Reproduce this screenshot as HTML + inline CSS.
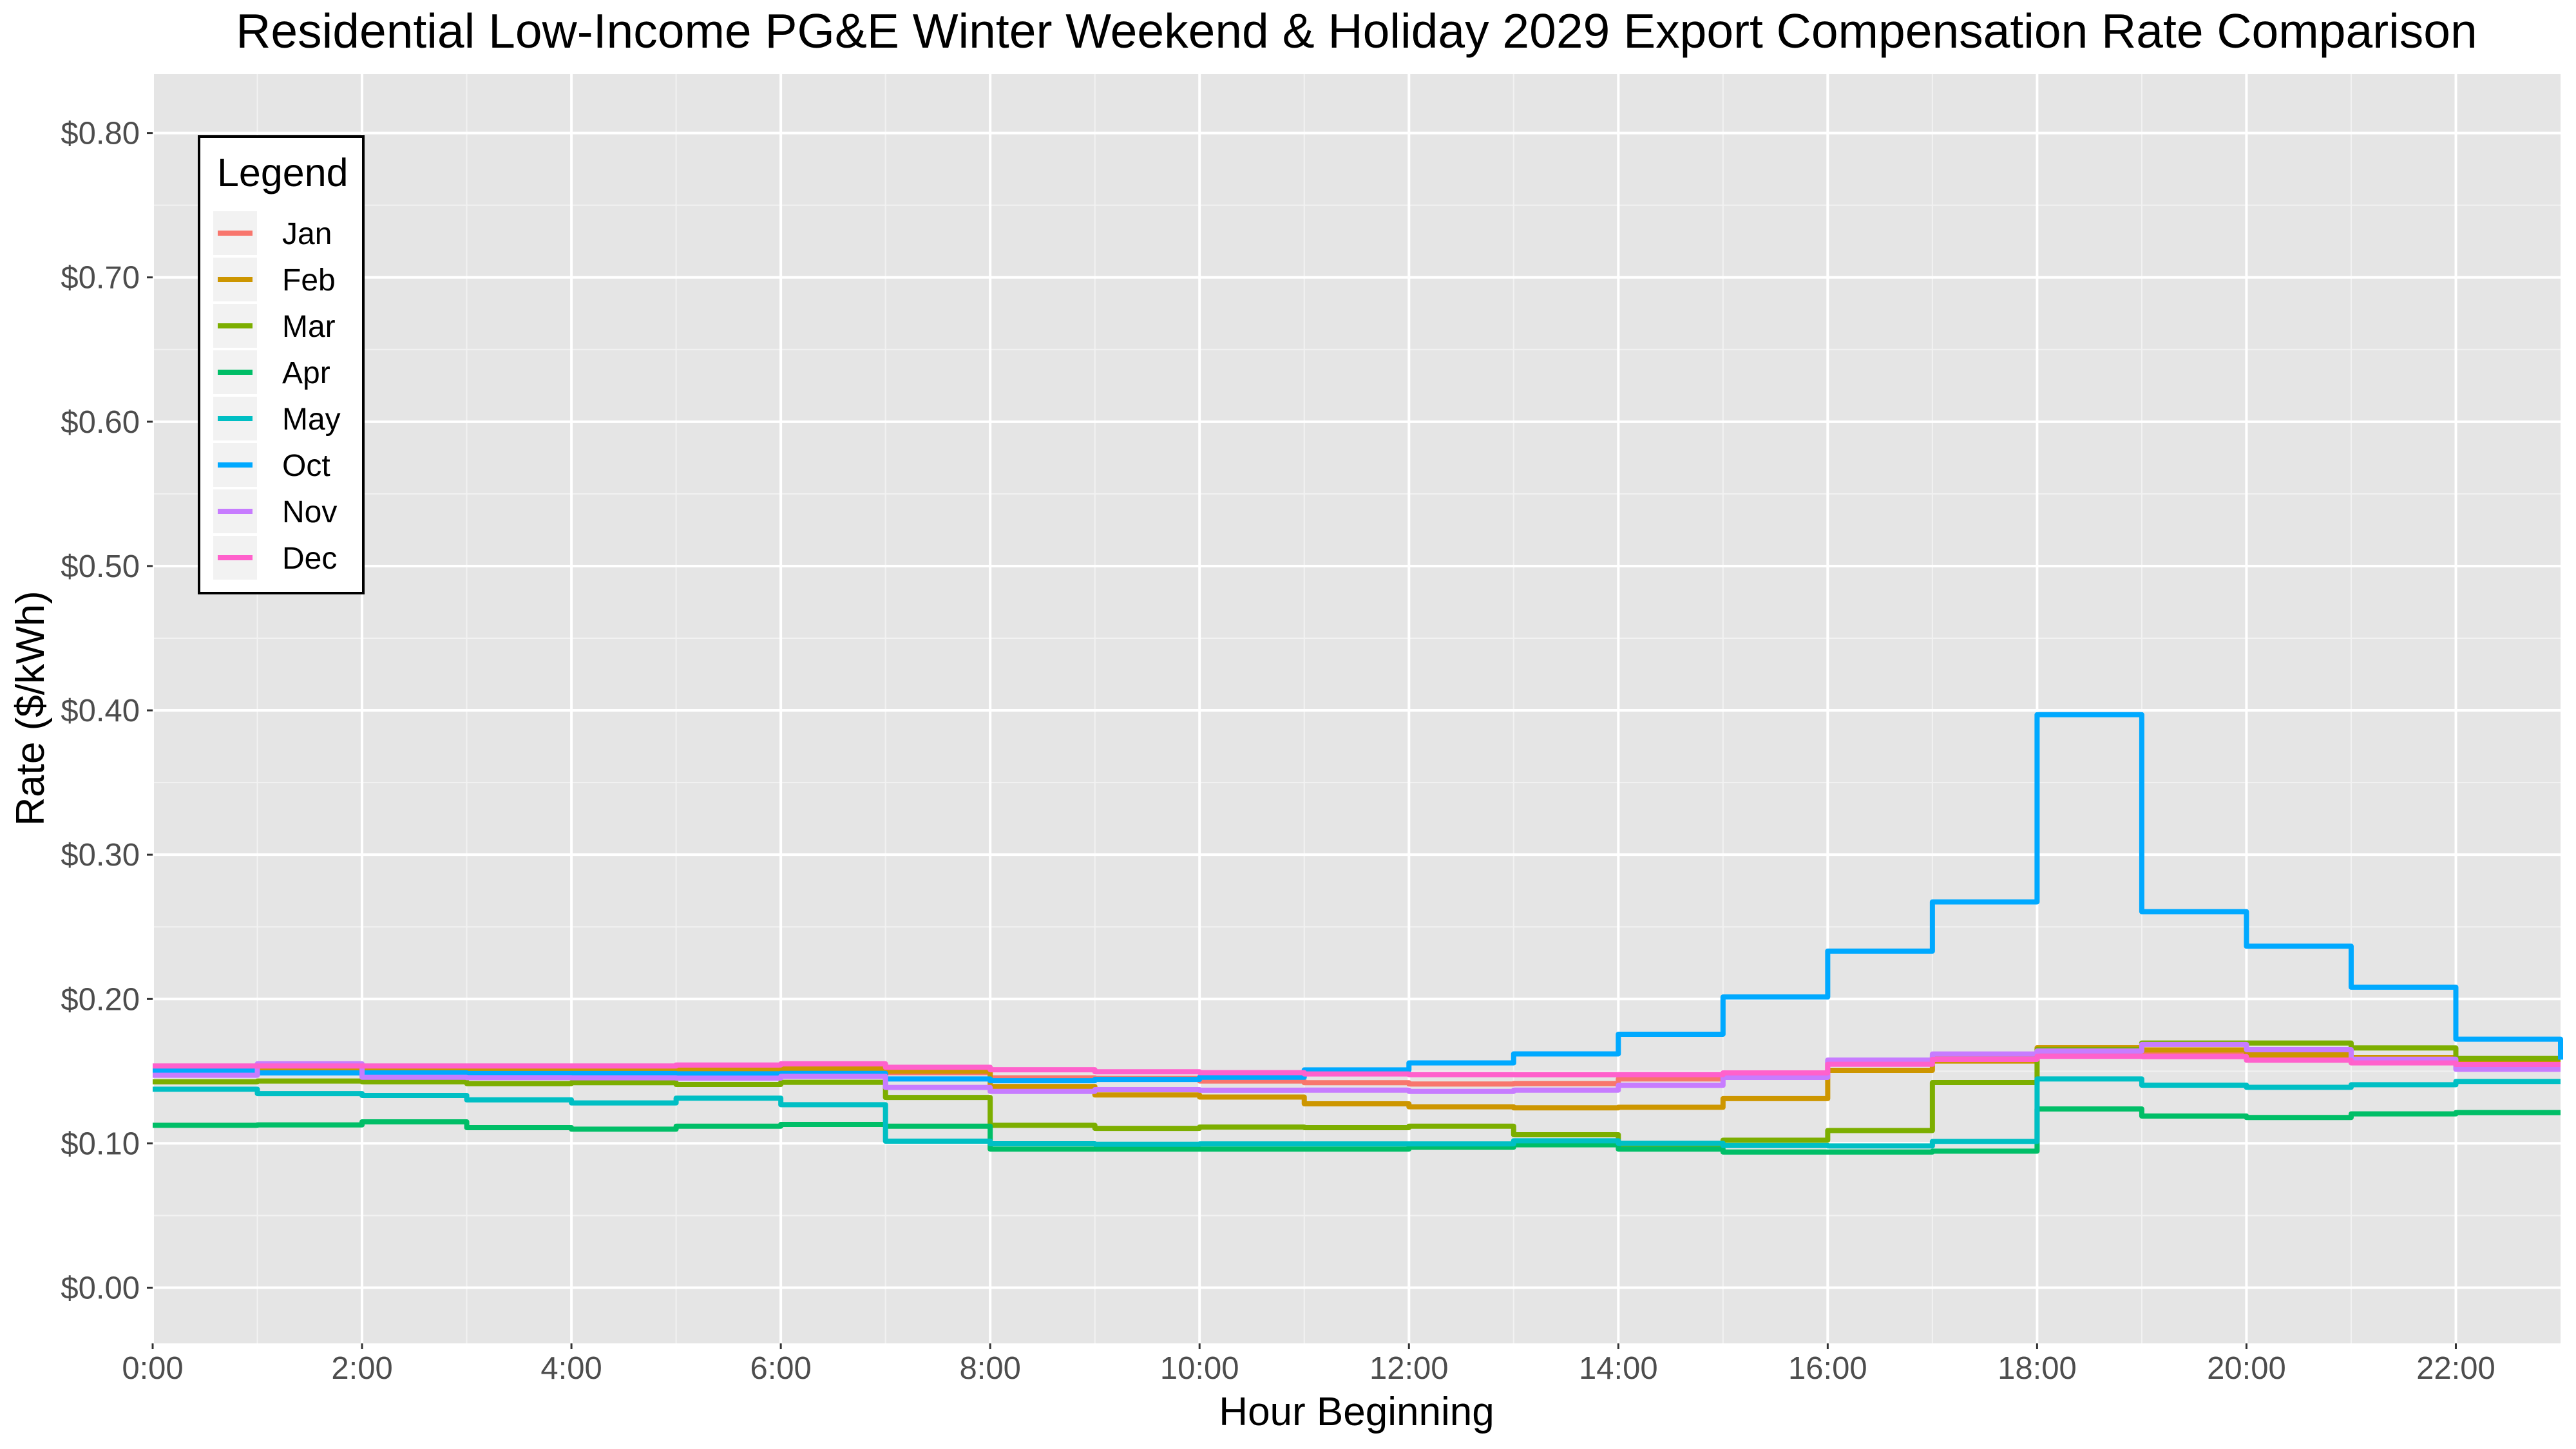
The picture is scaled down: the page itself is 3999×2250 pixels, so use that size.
<!DOCTYPE html>
<html><head><meta charset="utf-8">
<style>
html,body{margin:0;padding:0;background:#fff;}
svg{display:block;font-family:"Liberation Sans",Arial,sans-serif;}
</style></head>
<body>
<svg id="chart" width="3999" height="2250" viewBox="0 0 3999 2250" xmlns="http://www.w3.org/2000/svg">
<rect x="0" y="0" width="3999" height="2250" fill="#ffffff"/>
<text x="2106" y="74" text-anchor="middle" font-size="75" fill="#000">Residential Low-Income PG&amp;E Winter Weekend &amp; Holiday 2029 Export Compensation Rate Comparison</text>
<rect x="237" y="115" width="3738" height="1971" fill="#e5e5e5"/>
<g id="grid"></g>
<g id="series"></g>
<g id="yaxis"></g>
<g id="xaxis"></g>
<text x="2106" y="2213" text-anchor="middle" font-size="62" fill="#000">Hour Beginning</text>
<text x="68" y="1100" text-anchor="middle" font-size="62" fill="#000" transform="rotate(-90 68 1100)">Rate ($/kWh)</text>
<g id="legend">
<rect x="309" y="212" width="255" height="709" fill="#ffffff" stroke="#000" stroke-width="4"/>
<text x="337" y="289" font-size="61" fill="#000">Legend</text>
</g>
</svg>
<script>
const hours = [0,1,2,3,4,5,6,7,8,9,10,11,12,13,14,15,16,17,18,19,20,21,22,23];
const seriesNames = ["Jan","Feb","Mar","Apr","May","Oct","Nov","Dec"];
const seriesColors = ["#F8766D","#CD9600","#7CAE00","#00BE67","#00BFC4","#00A9FF","#C77CFF","#FF61CC"];
const janVals = [0.152,0.152,0.152,0.152,0.152,0.152,0.152,0.149,0.1454,0.145,0.1432,0.142,0.1411,0.1414,0.1446,0.146,0.156,0.160,0.163,0.162,0.158,0.156,0.155,0.155];
const febVals = [0.150,0.1506,0.1506,0.1506,0.1503,0.1507,0.1516,0.150,0.1394,0.1335,0.1321,0.1274,0.1253,0.1246,0.1250,0.1310,0.1506,0.157,0.1662,0.1647,0.1613,0.1595,0.156,0.156];
const marVals = [0.1427,0.1432,0.1427,0.1414,0.1420,0.1408,0.1423,0.1318,0.1125,0.1104,0.1113,0.1109,0.1119,0.106,0.0975,0.1022,0.1089,0.1421,0.165,0.1695,0.1695,0.1661,0.1588,0.1588];
const aprVals = [0.1125,0.1128,0.1149,0.1109,0.1098,0.1119,0.1131,0.1119,0.0960,0.0960,0.0960,0.0960,0.0973,0.0990,0.0960,0.0940,0.0940,0.0946,0.1238,0.1189,0.1179,0.1204,0.1213,0.1213];
const mayVals = [0.1375,0.1345,0.1332,0.1301,0.1280,0.1313,0.1268,0.1015,0.0997,0.0994,0.0996,0.0996,0.0996,0.1018,0.1000,0.0985,0.0982,0.1013,0.1446,0.1403,0.1388,0.1406,0.1429,0.1429];
const octVals = [0.1503,0.1488,0.1488,0.1484,0.1484,0.1482,0.1485,0.1446,0.1434,0.1443,0.1458,0.1509,0.1557,0.162,0.1756,0.2014,0.2332,0.2673,0.397,0.2605,0.2366,0.2082,0.1722,0.158];
const novVals = [0.1472,0.1551,0.1458,0.1455,0.1454,0.1452,0.1464,0.1387,0.1360,0.1372,0.1368,0.1369,0.1360,0.1369,0.1402,0.1457,0.1577,0.1619,0.164,0.1685,0.1649,0.1583,0.1513,0.1513];
const decVals = [0.1536,0.1536,0.1536,0.1536,0.1536,0.1543,0.1551,0.1527,0.1510,0.1496,0.1490,0.1481,0.1476,0.1475,0.1476,0.1488,0.1548,0.1582,0.1603,0.1601,0.1576,0.1557,0.1546,0.1546];
const yTicks = [0,0.1,0.2,0.3,0.4,0.5,0.6,0.7,0.8];
const yTickLabels = ["$0.00","$0.10","$0.20","$0.30","$0.40","$0.50","$0.60","$0.70","$0.80"];
const xTicks = [0,2,4,6,8,10,12,14,16,18,20,22];
const xTickLabels = ["0:00","2:00","4:00","6:00","8:00","10:00","12:00","14:00","16:00","18:00","20:00","22:00"];

const allVals = [janVals,febVals,marVals,aprVals,mayVals,octVals,novVals,decVals];
const NS = "http://www.w3.org/2000/svg";
const PL = 237, PR = 3975, PT = 115, PB = 2086;
function xs(h){ return PL + h * (PR - PL) / 23; }
function ys(v){ return 1999.5 - v * (1999.5 - 206.6) / 0.8; }
function mk(tag, attrs, parent){ const e = document.createElementNS(NS, tag); for (const k in attrs) e.setAttribute(k, attrs[k]); parent.appendChild(e); return e; }

const grid = document.getElementById('grid');
for (let k = 0; k < 8; k++) {
  const v = 0.05 + k * 0.1;
  const l = mk('line', {x1:PL, x2:PR, y1:ys(v), y2:ys(v), stroke:'#f2f2f2', 'stroke-width':2}, grid);
  
  
}
for (let h = 1; h < 23; h += 2) {
  const l = mk('line', {x1:xs(h), x2:xs(h), y1:PT, y2:PB, stroke:'#f2f2f2', 'stroke-width':2}, grid);
  
  
}
yTicks.forEach(v => {
  const l = mk('line', {x1:PL, x2:PR, y1:ys(v), y2:ys(v), stroke:'#ffffff', 'stroke-width':4}, grid);
  
  
});
xTicks.forEach(h => {
  const l = mk('line', {x1:xs(h), x2:xs(h), y1:PT, y2:PB, stroke:'#ffffff', 'stroke-width':4}, grid);
  
  
});

const yax = document.getElementById('yaxis');
yTicks.forEach((v, i) => {
  const t = mk('line', {x1:PL-9, x2:PL, y1:ys(v), y2:ys(v), stroke:'#333', 'stroke-width':3}, yax);
  
  
  const tx = mk('text', {x:PL-20, y:ys(v)+17, 'text-anchor':'end', 'font-size':49, fill:'#4d4d4d'}, yax);
  tx.textContent = yTickLabels[i];
  
  
});
const xax = document.getElementById('xaxis');
xTicks.forEach((h, i) => {
  const t = mk('line', {x1:xs(h), x2:xs(h), y1:PB, y2:PB+9, stroke:'#333', 'stroke-width':3}, xax);
  
  
  const tx = mk('text', {x:xs(h), y:PB+55, 'text-anchor':'middle', 'font-size':49, fill:'#4d4d4d'}, xax);
  tx.textContent = xTickLabels[i];
  
  
});

const ser = document.getElementById('series');
allVals.forEach((vals, si) => {
  let d = 'M' + xs(hours[0]) + ',' + ys(vals[0]);
  for (let i = 1; i < hours.length; i++) {
    d += ' H' + xs(hours[i]) + ' V' + ys(vals[i]);
  }
  const p = mk('path', {d:d, fill:'none', stroke:seriesColors[si], 'stroke-width':8, 'stroke-linejoin':'round'}, ser);
  
  
});

const leg = document.getElementById('legend');
seriesNames.forEach((n, i) => {
  const y = 362 + i * 72;
  const bg = mk('rect', {x:331, y:y-34, width:68, height:68, fill:'#f2f2f2'}, leg);
  
  
  const l = mk('line', {x1:338, x2:392, y1:y, y2:y, stroke:seriesColors[i], 'stroke-width':8}, leg);
  
  
  const t = mk('text', {x:438, y:y+17, 'font-size':48, fill:'#000'}, leg);
  t.textContent = n;
  
  
});
</script>
</body></html>
